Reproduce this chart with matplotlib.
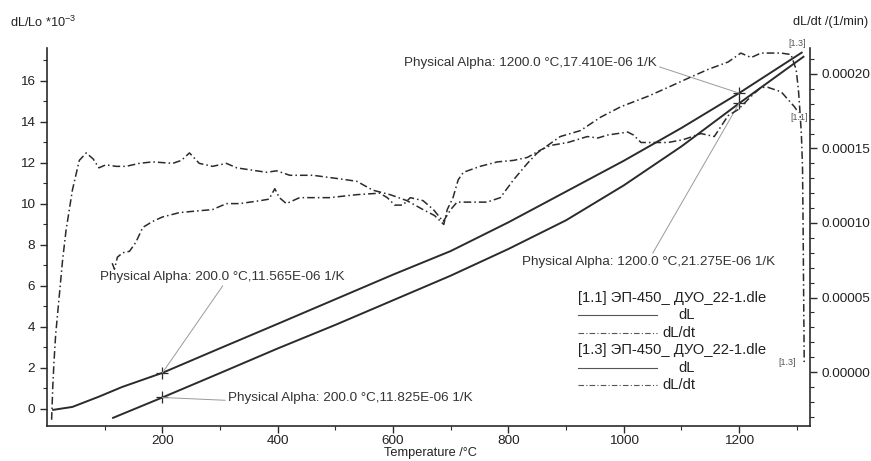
import numpy as np
import matplotlib
matplotlib.use('Agg')
import matplotlib.pyplot as plt
from matplotlib.lines import Line2D
from matplotlib.ticker import MultipleLocator, FixedLocator, FormatStrFormatter

plt.rcParams['font.family'] = ['Liberation Sans', 'DejaVu Sans']
plt.rcParams['mathtext.default'] = 'regular'

# dL/Lo *10^-3, run [1.1] (starts at room temperature)
temp_dl_11 = [9, 44, 90, 130, 200, 300, 400, 500, 600, 700, 800, 900, 1000, 1100, 1200, 1310]
dl_11 = [-0.05, 0.1, 0.6, 1.07, 1.76, 2.96, 4.15, 5.35, 6.55, 7.7, 9.1, 10.6, 12.1, 13.7, 15.4, 17.4]

# dL/Lo *10^-3, run [1.3]
temp_dl_13 = [113, 200, 300, 400, 500, 600, 700, 800, 900, 1000, 1100, 1200, 1313]
dl_13 = [-0.45, 0.56, 1.75, 2.95, 4.1, 5.3, 6.5, 7.8, 9.2, 10.9, 12.8, 14.9, 17.2]

# dL/dt in 1e-5 1/min, run [1.1]
temp_dt_11 = [8, 10, 12, 15, 21, 27, 33, 44, 56, 68, 80, 90, 102, 120, 137, 160, 183, 218, 233, 247,
              264, 287, 311, 329, 346, 381, 398, 421, 461, 500, 537, 565, 595, 624, 652, 672, 688,
              694, 704, 713, 722, 751, 781, 809, 833, 856, 873, 903, 937, 955, 972, 1007, 1017, 1030,
              1047, 1077, 1104, 1134, 1157, 1181, 1198, 1221, 1238, 1250, 1273, 1296, 1303]
dt_11 = [-3.2, -1.0, 0.6, 2.5, 5.0, 7.5, 9.5, 12.2, 14.2, 14.7, 14.3, 13.7, 13.9, 13.8, 13.8, 14.0, 14.1, 14.0, 14.2, 14.7,
         14.0, 13.8, 14.0, 13.7, 13.6, 13.4, 13.5, 13.2, 13.2, 13.0, 12.8, 12.2, 11.9, 11.5, 10.9, 10.5, 9.9,
         10.9, 11.7, 12.9, 13.4, 13.8, 14.1, 14.2, 14.4, 14.9, 15.2, 15.4, 15.8, 15.7, 15.9, 16.1, 15.9, 15.4,
         15.4, 15.4, 15.6, 16.0, 15.8, 17.2, 17.6, 18.5, 19.1, 19.1, 18.8, 17.8, 17.4]

# dL/dt in 1e-5 1/min, run [1.3]
temp_dt_13 = [113, 117, 122, 131, 143, 154, 166, 183, 200, 230, 258, 287, 311, 334, 370, 385, 395, 403, 415,
              438, 461, 490, 537, 577, 590, 603, 617, 630, 652, 670, 687, 700, 711, 739, 763, 786, 809, 833,
              850, 868, 890, 925, 960, 995, 1042, 1077, 1111, 1146, 1181, 1203, 1221, 1238, 1273, 1290,
              1299, 1303, 1305, 1308, 1310, 1311, 1312, 1313]
dt_13 = [7.3, 6.9, 7.7, 8.0, 8.1, 8.7, 9.7, 10.1, 10.4, 10.7, 10.8, 10.9, 11.3, 11.3, 11.5, 11.6, 12.3, 11.7, 11.3,
         11.7, 11.7, 11.7, 11.9, 12.0, 11.7, 11.2, 11.2, 11.7, 11.5, 10.9, 10.1, 10.9, 11.4, 11.4, 11.4, 11.7, 12.9, 14.0,
         14.7, 15.2, 15.8, 16.2, 17.1, 17.8, 18.5, 19.1, 19.7, 20.3, 20.8, 21.4, 21.1, 21.4, 21.4, 21.3,
         20.3, 18.9, 17.8, 16.0, 13.8, 10.0, 5.0, 0.6]

# Physical Alpha points
alpha_t = [200, 200, 1200, 1200]
alpha_dl = [1.76, 0.56, 15.4, 14.9]
alpha_txt = ['Physical Alpha: 200.0 °C,11.565E-06 1/K',
             'Physical Alpha: 200.0 °C,11.825E-06 1/K',
             'Physical Alpha: 1200.0 °C,17.410E-06 1/K',
             'Physical Alpha: 1200.0 °C,21.275E-06 1/K']

W, H = 871, 461
col = '#2b2b2b'
fig = plt.figure(figsize=(W / 100, H / 100), dpi=100)
ax = fig.add_axes([47 / W, 1 - 426 / H, (810 - 47) / W, (426 - 48) / H])
ax2 = ax.twinx()

ax.plot(temp_dl_11, dl_11, color=col, lw=1.4, solid_capstyle='butt')
ax.plot(temp_dl_13, dl_13, color=col, lw=1.4, solid_capstyle='butt')
dd = (5, 2, 1, 2)
ax2.plot(temp_dt_11, np.array(dt_11) * 1e-5, color=col, lw=1.1, dashes=dd)
ax2.plot(temp_dt_13, np.array(dt_13) * 1e-5, color=col, lw=1.1, dashes=dd)

ax.plot(alpha_t, alpha_dl, ls='none', marker='+', ms=9, mew=0.9, color=col)

# annotation text placement (figure pixels, from top) and where the leader leaves the text
txt_pos = [(100, 277), (228, 398), (404, 63), (522, 262)]
rel = [(0.51, 0.0), (0.0, 0.3), (1.0, 0.25), (0.51, 1.0)]
for t, v, s, (px, py), rp in zip(alpha_t, alpha_dl, alpha_txt, txt_pos, rel):
    ax.annotate(s, xy=(t, v), xytext=(px, H - py), textcoords='figure pixels',
                ha='left', va='center', fontsize=9.7, color='#333333',
                arrowprops=dict(arrowstyle='-', color='#9a9a9a', lw=0.7, shrinkA=0, shrinkB=0, relpos=rp))

ax.set_xlim(0, 1323)
ax.set_ylim(-0.83, 17.6)
ax2.set_ylim(-3.62e-5, 2.174e-4)

ax.xaxis.set_major_locator(FixedLocator([200, 400, 600, 800, 1000, 1200]))
ax.xaxis.set_minor_locator(FixedLocator([100, 300, 500, 700, 900, 1100, 1300]))
ax.yaxis.set_major_locator(MultipleLocator(2))
ax.yaxis.set_minor_locator(MultipleLocator(1))
ax2.yaxis.set_major_locator(MultipleLocator(5e-5))
ax2.yaxis.set_minor_locator(MultipleLocator(1e-5))
ax2.yaxis.set_major_formatter(FormatStrFormatter('%.5f'))

for a in (ax, ax2):
    a.spines['top'].set_visible(False)
    for sp in a.spines.values():
        sp.set_color(col)
        sp.set_linewidth(1.2)
    a.tick_params(which='major', length=5, width=1, colors=col, labelsize=9.7, labelcolor='#222222')
    a.tick_params(which='minor', length=3, width=0.8, colors=col)
ax.tick_params(axis='x', which='major', pad=1.5)
ax.spines['right'].set_visible(False)
ax2.spines['left'].set_visible(False)
ax2.spines['bottom'].set_visible(False)

fig.text(430 / W, 1 - 453 / H, 'Temperature /°C', fontsize=9.2, color='#222222', ha='center', va='center')
fig.text(10 / W, 1 - 22 / H, 'dL/Lo *10$^{-3}$', fontsize=9.2, color='#222222', va='center', ha='left')
fig.text(868 / W, 1 - 22 / H, 'dL/dt /(1/min)', fontsize=9.2, color='#222222', va='center', ha='right')

# small run labels at curve ends
for s, (px, py) in zip(['[1.3]', '[1.1]', '[1.3]'], [(797, 43), (799, 118), (787, 362)]):
    fig.text(px / W, 1 - py / H, s, fontsize=6.5, color='#555555', ha='center', va='center')

# legend block
leg_rows = [('[1.1] ЭП-450_ ДУО_22-1.dle', None, 298),
            ('dL', '-', 315), ('dL/dt', '-.', 333),
            ('[1.3] ЭП-450_ ДУО_22-1.dle', None, 350),
            ('dL', '-', 368), ('dL/dt', '-.', 385)]
for s, ls, py in leg_rows:
    yf = 1 - py / H
    if ls is None:
        fig.text(578 / W, yf, s, fontsize=10.6, color='#222222', va='center', ha='left')
    else:
        ln = Line2D([578 / W, 657 / W], [yf, yf], transform=fig.transFigure, color='#555555', lw=0.8)
        if ls == '-.':
            ln.set_dashes(dd)
        fig.add_artist(ln)
        fig.text(695 / W, yf, s, fontsize=10.6, color='#222222', va='center', ha='right')

fig.savefig('out.png', dpi=100)
